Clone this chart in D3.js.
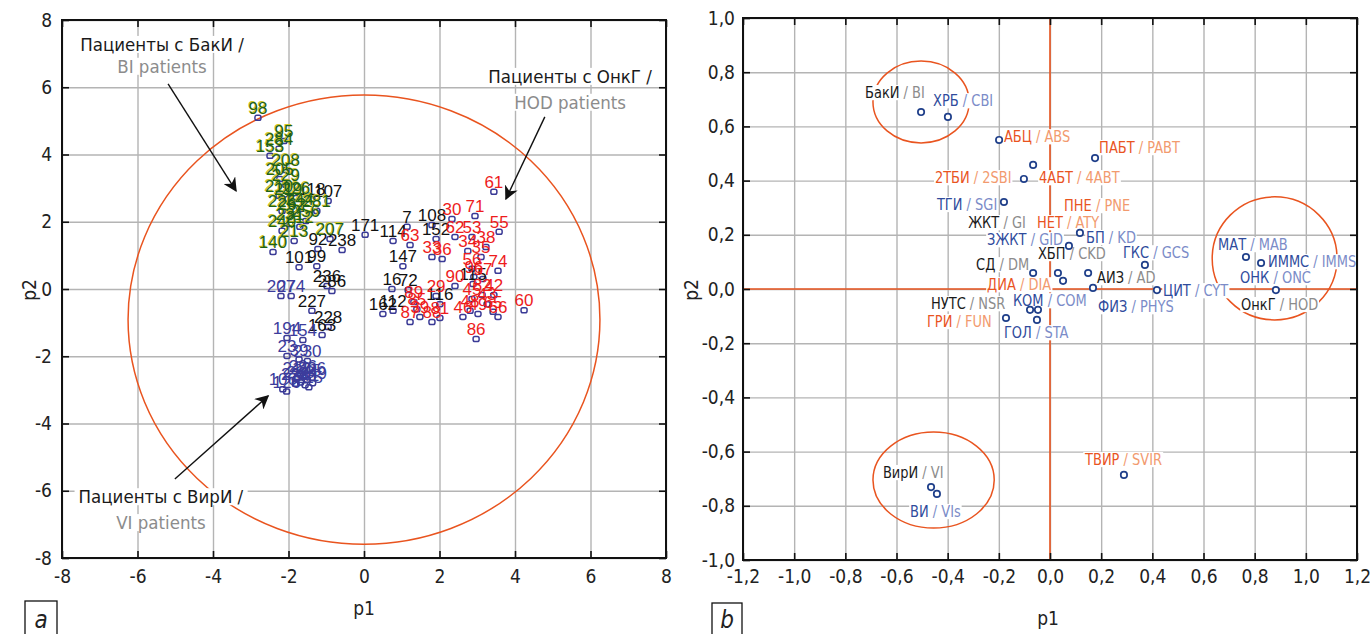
<!DOCTYPE html>
<html><head><meta charset="utf-8">
<script src="https://cdn.jsdelivr.net/npm/d3@7"></script>
<style>
body{margin:0;background:#fff}
svg text{font-family:"DejaVu Sans Condensed","DejaVu Sans",sans-serif;font-stretch:condensed}
svg text.num{font-family:"Liberation Sans",Arial,sans-serif;font-stretch:normal}
</style></head><body>
<svg id="c" width="1370" height="634"></svg>
<script>
// ---------- DATA ----------
const leftTicks = [-8,-6,-4,-2,0,2,4,6,8];
const rightXTicks = [-1.2,-1.0,-0.8,-0.6,-0.4,-0.2,0.0,0.2,0.4,0.6,0.8,1.0,1.2];
const rightYTicks = [-1.0,-0.8,-0.6,-0.4,-0.2,0.0,0.2,0.4,0.6,0.8,1.0];

// patients: [id, p1, p2]
const biPatients = [[98,-2.81,5.09],[95,-2.12,4.40],[284,-2.25,4.17],[153,-2.49,3.96],[208,-2.07,3.54],[205,-2.23,3.27],[229,-2.07,3.10],[210,-2.25,2.77],[219,-2.01,2.68],[226,-1.80,2.71],[225,-2.17,2.32],[262,-1.91,2.23],[244,-1.70,2.38],[281,-1.25,2.32],[256,-1.54,2.02],[231,-1.96,1.93],[240,-2.17,1.73],[212,-1.70,1.85],[213,-1.85,1.43],[207,-0.90,1.49],[140,-2.41,1.10]];
const mixedPatients = [[118,-1.38,2.68],[107,-0.95,2.62],[171,0.03,1.61],[92,-1.22,1.19],[238,-0.58,1.16],[101,-1.72,0.65],[99,-1.25,0.68],[236,-0.98,0.09],[286,-0.85,-0.06],[227,-1.38,-0.65],[228,-0.95,-1.13],[163,-1.11,-1.37],[7,1.14,1.85],[108,1.80,1.90],[114,0.77,1.43],[152,1.91,1.49],[147,1.03,0.68],[16,0.74,0.0],[72,1.17,-0.03],[162,0.50,-0.74],[112,0.77,-0.65],[115,2.89,0.15],[116,2.01,-0.45]];
const hodPatients = [[61,3.44,2.89],[30,2.33,2.08],[71,2.94,2.17],[55,3.58,1.70],[63,1.22,1.31],[62,2.41,1.55],[53,2.86,1.55],[38,3.23,1.25],[33,1.80,0.95],[36,2.07,0.89],[34,2.75,1.13],[35,3.10,0.95],[74,3.55,0.54],[56,2.86,0.60],[96,2.91,0.36],[57,3.15,0.30],[90,2.41,0.09],[82,3.13,-0.18],[45,2.86,-0.30],[42,3.44,-0.18],[43,3.26,-0.45],[89,1.32,-0.39],[29,1.91,-0.21],[60,4.24,-0.63],[65,3.42,-0.68],[66,3.55,-0.83],[48,2.81,-0.65],[49,3.02,-0.74],[46,2.62,-0.83],[86,2.97,-1.49],[87,1.22,-0.98],[88,1.80,-0.98],[81,2.01,-0.86],[39,1.48,-0.83],[85,1.40,-0.60]];
const viPatients = [[207,-2.20,-0.21],[274,-1.93,-0.21],[194,-2.04,-1.46],[154,-1.62,-1.52],[23,-2.04,-1.99],[39,-1.72,-2.10],[230,-1.50,-2.14],[236,-1.62,-2.60],[212,-1.78,-2.66],[245,-1.50,-2.70],[233,-1.68,-2.78],[226,-1.38,-2.64],[241,-1.56,-2.86],[222,-1.82,-2.82],[249,-1.36,-2.80],[215,-1.46,-2.92],[106,-2.15,-2.98],[126,-2.05,-3.05]];

const leftEllipse = {cx:0.0, cy:-0.91, rx:6.25, ry:6.68};
const annotRu = ["Пациенты с БакИ /","Пациенты с ОнкГ /","Пациенты с ВирИ /"];
const annotEn = ["BI patients","HOD patients","VI patients"];
const annotP1 = [-5.35,5.46,-5.38];
const annotP2 = [7.08,6.13,-6.37];
const annotP2b = [6.43,5.36,-7.14];
const arrowFrom = [[-5.19,6.10],[4.79,5.12],[-5.01,-5.65]];
const arrowTo = [[-3.39,2.92],[3.76,2.68],[-2.54,-3.18]];

const termRu = ["БакИ","ХРБ","АБЦ","ПАБТ","2ТБИ","4АБТ","ТГИ","ПНЕ","ЖКТ","НЕТ","ЗЖКТ","БП","ХБП","ГКС","МАТ","ИММС","СД","ОНК","АИЗ","ДИА","ЦИТ","НУТС","КОМ","ФИЗ","ОнкГ","ГРИ","ГОЛ","ТВИР","ВирИ","ВИ"];
const termEn = ["BI","CBI","ABS","PABT","2SBI","4ABT","SGI","PNE","GI","ATY","GID","KD","CKD","GCS","MAB","IMMS","DM","ONC","AD","DIA","CYT","NSR","COM","PHYS","HOD","FUN","STA","SVIR","VI","VIs"];
const termGroup = ["k","b","o","o","o","o","b","o","k","o","b","b","k","b","b","b","k","b","k","o","b","k","b","b","k","o","b","o","k","b"];
const termP1 = [-0.504,-0.399,-0.199,0.176,-0.102,-0.066,-0.180,null,null,null,0.051,0.117,0.074,0.371,0.766,0.825,-0.066,null,0.149,0.031,0.418,-0.078,-0.047,0.168,0.883,-0.172,-0.051,0.289,-0.465,-0.442];
const termP2 = [0.653,0.635,0.550,0.483,0.406,0.458,0.321,null,null,null,0.030,0.207,0.159,0.089,0.118,0.096,0.059,null,0.059,0.059,-0.004,-0.077,-0.077,0.004,-0.004,-0.107,-0.114,-0.686,-0.731,-0.756];
const termLabelP1 = [-0.723,-0.457,-0.180,0.192,-0.450,-0.043,-0.442,0.055,-0.320,-0.051,-0.246,0.141,-0.047,0.285,0.657,0.852,-0.289,0.743,0.184,-0.246,0.442,-0.465,-0.145,0.188,0.747,-0.481,-0.180,0.137,-0.653,-0.547];
const termLabelP2 = [0.705,0.675,0.542,0.502,0.391,0.391,0.292,0.288,0.225,0.225,0.162,0.170,0.111,0.114,0.144,0.081,0.070,0.022,0.022,-0.004,-0.026,-0.074,-0.063,-0.085,-0.077,-0.140,-0.181,-0.649,-0.697,-0.841];
const rightEllipses = [{cx:-0.504,cy:0.690,rx:0.188,ry:0.151},{cx:0.878,cy:0.113,rx:0.244,ry:0.227},{cx:-0.455,cy:-0.705,rx:0.237,ry:0.177}];

// ---------- STYLE ----------
const ORANGE="#e9541f", GRID="#b4b4b4";
const ruCol={k:"#1a1a1a",b:"#2f4b9c",o:"#e9541f"};
const enCol={k:"#8c8c8c",b:"#7b8cc8",o:"#f29a6e"};
const patCol={bi:"#1d621a",mix:"#111111",hod:"#ee1c1c",vi:"#3c3c9c"};
const svg=d3.select("#c");
const fmtR=v=>d3.format(".1f")(v).replace(".",",").replace("−","-");
const fmtL=v=>d3.format("d")(v).replace("−","-");

function panel(xs,ys,xt,yt,fmt,xLabY,yLabX){
  const g=svg.append("g");
  const [x0,x1]=xs.range(), [y1,y0]=ys.range();
  g.append("g").attr("transform",`translate(0,${y1})`).call(d3.axisBottom(xs).tickValues(xt).tickSize(-(y1-y0)).tickFormat(""))
   .call(a=>{a.select(".domain").remove();a.selectAll("line").attr("stroke",GRID).attr("stroke-width",1.4);});
  g.append("g").attr("transform",`translate(${x0},0)`).call(d3.axisLeft(ys).tickValues(yt).tickSize(-(x1-x0)).tickFormat(""))
   .call(a=>{a.select(".domain").remove();a.selectAll("line").attr("stroke",GRID).attr("stroke-width",1.4);});
  g.append("g").attr("transform",`translate(0,${y1})`).call(d3.axisBottom(xs).tickValues(xt).tickSize(0).tickPadding(xLabY).tickFormat(fmt))
   .call(a=>{a.select(".domain").remove();a.selectAll("text").attr("font-size",19).attr("fill","#222").attr("font-family",null);});
  g.append("g").attr("transform",`translate(${x0},0)`).call(d3.axisLeft(ys).tickValues(yt).tickSize(0).tickPadding(yLabX).tickFormat(fmt))
   .call(a=>{a.select(".domain").remove();a.selectAll("text").attr("font-size",19).attr("fill","#222").attr("font-family",null);});
  return g;
}
function frame(g,xs,ys,xt,yt){
  const [x0,x1]=xs.range(), [y1,y0]=ys.range();
  const t=g.append("g");
  [[d3.axisBottom(xs).tickValues(xt),`translate(0,${y1})`],[d3.axisTop(xs).tickValues(xt),`translate(0,${y0})`],
   [d3.axisLeft(ys).tickValues(yt),`translate(${x0},0)`],[d3.axisRight(ys).tickValues(yt),`translate(${x1},0)`]].forEach(([ax,tr])=>{
    t.append("g").attr("transform",tr).call(ax.tickSize(-7).tickFormat(""))
     .call(a=>{a.select(".domain").remove();a.selectAll("line").attr("stroke","#111").attr("stroke-width",1.6);});
  });
  g.append("rect").attr("x",x0).attr("y",y0).attr("width",x1-x0).attr("height",y1-y0).attr("fill","none").attr("stroke","#111").attr("stroke-width",2);
}
function bgText(g,sel,pad){
  const b=sel.node().getBBox();
  g.insert("rect",()=>sel.node()).attr("x",b.x-pad).attr("y",b.y+2).attr("width",b.width+2*pad).attr("height",b.height-4).attr("fill","#fff");
}

// ---------- LEFT PANEL ----------
const xL=d3.scaleLinear().domain([-8,8]).range([62,666]);
const yL=d3.scaleLinear().domain([-8,8]).range([558,20]);
const gL=panel(xL,yL,leftTicks,leftTicks,fmtL,12,10);
gL.append("ellipse").attr("cx",xL(leftEllipse.cx)).attr("cy",yL(leftEllipse.cy))
  .attr("rx",xL(leftEllipse.rx)-xL(0)).attr("ry",yL(0)-yL(leftEllipse.ry))
  .attr("fill","none").attr("stroke",ORANGE).attr("stroke-width",1.5);

const groups=[["mix",mixedPatients],["bi",biPatients],["hod",hodPatients],["vi",viPatients]];
const gm=gL.append("g"), gt=gL.append("g");
groups.forEach(([k,arr])=>{
  gm.selectAll(null).data(arr).enter().append("rect")
    .attr("x",d=>xL(d[1])-3).attr("y",d=>yL(d[2])-2.5).attr("width",6).attr("height",5).attr("rx",1.8)
    .attr("fill","none").attr("stroke","#3a3a96").attr("stroke-width",1.5);
});
groups.forEach(([k,arr])=>{
  if(k==="bi"){
    gt.selectAll(null).data(arr).enter().append("text").attr("class","num")
      .attr("x",d=>xL(d[1])-0.8).attr("y",d=>yL(d[2])-4.6).attr("text-anchor","middle").attr("font-size",17)
      .attr("fill","#cfc626").text(d=>d[0]);
  }
  gt.selectAll(null).data(arr).enter().append("text").attr("class","num")
    .attr("x",d=>xL(d[1])).attr("y",d=>yL(d[2])-4).attr("text-anchor","middle").attr("font-size",17)
    .attr("fill",patCol[k]).text(d=>d[0]);
});
svg.append("defs").append("marker").attr("id","ah").attr("viewBox","0 0 10 10").attr("refX",9).attr("refY",5)
  .attr("markerWidth",14).attr("markerHeight",14).attr("markerUnits","userSpaceOnUse").attr("orient","auto")
  .append("path").attr("d","M0,0 L10,5 L0,10 L3,5 Z").attr("fill","#111");
arrowFrom.forEach((f,i)=>{
  gL.append("line").attr("x1",xL(f[0])).attr("y1",yL(f[1])).attr("x2",xL(arrowTo[i][0])).attr("y2",yL(arrowTo[i][1]))
    .attr("stroke","#111").attr("stroke-width",1.4).attr("marker-end","url(#ah)");
});
annotRu.forEach((t,i)=>{
  const a=gL.append("text").attr("x",xL(annotP1[i])).attr("y",yL(annotP2[i])).attr("text-anchor","middle").attr("font-size",18.5).attr("fill","#1a1a1a").text(t);
  bgText(gL,a,4);
  const b=gL.append("text").attr("x",xL(annotP1[i])).attr("y",yL(annotP2b[i])).attr("text-anchor","middle").attr("font-size",18.5).attr("fill","#8c8c8c").text(annotEn[i]);
  bgText(gL,b,4);
});
frame(gL,xL,yL,leftTicks,leftTicks);
svg.append("text").attr("x",364).attr("y",615).attr("text-anchor","middle").attr("font-size",19).attr("fill","#222").text("p1");
svg.append("text").attr("transform","translate(36,290) rotate(-90)").attr("text-anchor","middle").attr("font-size",19).attr("fill","#222").text("p2");

// ---------- RIGHT PANEL ----------
const xR=d3.scaleLinear().domain([-1.2,1.2]).range([743,1357]);
const yR=d3.scaleLinear().domain([-1,1]).range([560,18]);
const gR=panel(xR,yR,rightXTicks,rightYTicks,fmtR,10,8);
gR.append("line").attr("x1",xR(0)).attr("x2",xR(0)).attr("y1",yR(1)).attr("y2",yR(-1)).attr("stroke",ORANGE).attr("stroke-width",1.6);
gR.append("line").attr("x1",xR(-1.2)).attr("x2",xR(1.2)).attr("y1",yR(0)).attr("y2",yR(0)).attr("stroke",ORANGE).attr("stroke-width",1.6);
rightEllipses.forEach(e=>{
  gR.append("ellipse").attr("cx",xR(e.cx)).attr("cy",yR(e.cy)).attr("rx",xR(e.rx)-xR(0)).attr("ry",yR(0)-yR(e.ry))
    .attr("fill","none").attr("stroke",ORANGE).attr("stroke-width",1.5);
});
termRu.forEach((ru,i)=>{
  const lg=gR.append("g").attr("transform",`translate(${xR(termLabelP1[i])},${yR(termLabelP2[i])}) scale(0.87,1)`);
  const t=lg.append("text").attr("x",0).attr("y",0).attr("font-size",16.6);
  t.append("tspan").attr("fill",ruCol[termGroup[i]]).text(ru+" ");
  t.append("tspan").attr("fill",enCol[termGroup[i]]).text("/ "+termEn[i]);
  bgText(lg,t,1);
});
termRu.forEach((ru,i)=>{
  if(termP1[i]===null) return;
  gR.append("circle").attr("cx",xR(termP1[i])).attr("cy",yR(termP2[i])).attr("r",3.2)
    .attr("fill","#fff").attr("stroke","#1f3f8a").attr("stroke-width",1.7);
});
frame(gR,xR,yR,rightXTicks,rightYTicks);
svg.append("text").attr("x",1048).attr("y",625).attr("text-anchor","middle").attr("font-size",19).attr("fill","#222").text("p1");
svg.append("text").attr("transform","translate(698,290) rotate(-90)").attr("text-anchor","middle").attr("font-size",19).attr("fill","#222").text("p2");

[[25,601,32,34,"a"],[712,603,30,32,"b"]].forEach(([x,y,w,h,l])=>{
  svg.append("rect").attr("x",x).attr("y",y).attr("width",w).attr("height",h).attr("fill","none").attr("stroke","#111").attr("stroke-width",1.3);
  svg.append("text").attr("x",x+w/2).attr("y",y+h-7).attr("text-anchor","middle").attr("font-size",24).attr("font-style","italic").attr("fill","#222").text(l);
});
</script></body></html>
